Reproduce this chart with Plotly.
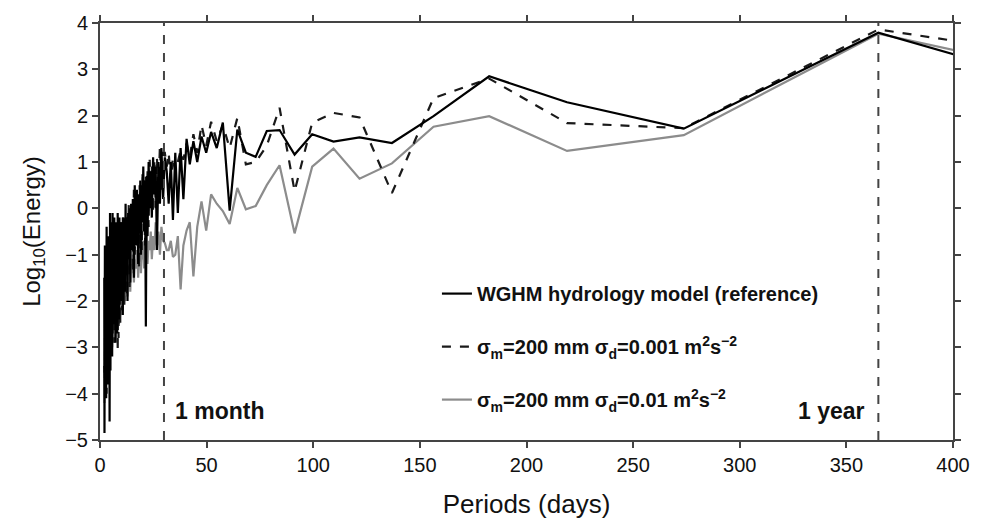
import plotly.graph_objects as go

# Periods (days) of the spectral components
periods = [547.5, 365.0, 273.75, 219.0, 182.5, 156.4, 136.9, 121.7, 109.5, 99.5,
           91.25, 84.2, 78.2, 73.0, 68.4, 64.4, 60.8, 57.6, 54.75, 52.1,
           49.8, 47.6, 45.6, 43.8, 42.1, 40.6, 39.1, 37.8, 36.5, 35.3,
           34.2, 33.2, 32.2, 31.3, 30.4,
           29.6, 28.8, 28.1, 27.4, 26.7, 26.1, 25.5, 24.9, 24.3, 23.8,
           23.3, 22.8, 22.3, 21.9, 21.5, 21.1, 20.7, 20.3, 19.9, 19.6,
           19.2, 18.9, 18.6, 18.3,
           17.9, 17.4, 16.8, 16.3, 15.9, 15.4, 15.0, 14.6, 14.2, 13.9,
           13.5, 13.2, 12.9, 12.6, 12.3, 12.0, 11.7, 11.4, 11.2, 10.9,
           10.7, 10.4, 10.2, 10.0, 9.7, 9.5, 9.3, 9.1, 8.9, 8.7,
           8.5, 8.3, 8.1, 7.9, 7.7, 7.5, 7.3, 7.1, 6.9, 6.7,
           6.5, 6.3, 6.1, 5.9, 5.7, 5.5, 5.3, 5.1, 4.9, 4.7,
           4.5, 4.3, 4.1, 3.9, 3.7, 3.5, 3.3, 3.1, 2.9, 2.7,
           2.5, 2.3, 2.1, 2.0]

# WGHM hydrology model (reference)
wghm = [1.39, 3.79, 1.72, 2.29, 2.85, 1.99, 1.41, 1.53, 1.44, 1.60,
        1.16, 1.69, 1.67, 1.11, 1.20, 1.70, -0.05, 1.85, 1.30, 1.65,
        1.20, 1.55, 1.00, 1.45, 0.95, 1.50, 0.20, 1.30, -0.10, 1.20,
        -0.25, 1.00, 0.10, 0.80, 1.10,
        0.2, 1.3, 0.1, 1.0, -0.9, 0.9, 0.3, 1.1, -0.2, 0.8,
        0.0, 1.0, -0.6, 0.7, -2.55, 0.6, -0.5, 0.9, -0.3, 0.5,
        -1.0, 0.6, -0.4, 0.3,
        -1.2, 0.4, -0.8, 0.5, -1.5, 0.2, -0.9, 0.1, -1.6, 0.0,
        -1.1, -0.1, -2.0, -0.2, -1.3, 0.1, -1.8, -0.3, -1.0, -0.2,
        -2.3, -0.4, -1.4, -0.3, -2.0, -0.5, -1.2, -0.2, -2.4, -0.6,
        -1.5, -0.1, -2.7, -0.7, -1.9, -0.3, -2.9, -0.8, -1.6, -0.2,
        -2.5, -0.9, -2.0, -0.1, -3.2, -1.0, -2.2, -0.3, -3.5, -0.1,
        -4.6, -1.2, -2.8, -0.6, -3.8, -1.4, -2.6, -0.4, -4.1, -1.6,
        -3.3, -0.8, -4.85, -1.5]

# sigma_m = 200 mm, sigma_d = 0.001 m2 s-2
sig_001 = [2.61, 3.86, 1.73, 1.84, 2.80, 2.38, 0.33, 1.96, 2.06, 1.85,
           0.37, 2.17, 1.35, 1.00, 0.95, 1.95, 1.30, 1.80, 1.45, 1.87,
           1.35, 1.80, 1.20, 1.60, 1.10, 1.40, 1.05, 1.25, 1.00, 0.80,
           1.10, 0.60, 1.20, 0.90, 1.20,
           1.2, 0.4, 1.35, 0.3, 1.1, 0.0, 1.0, -0.1, 0.9, 0.2,
           1.05, -0.4, 0.8, 0.1, 0.7, -0.8, 0.6, -0.2, 0.8, -0.9,
           0.4, -0.3, 0.5, -1.3,
           0.3, -0.6, 0.2, -1.0, 0.4, -1.4, 0.0, -0.8, -0.1, -1.7,
           0.1, -1.0, -0.3, -1.9, -0.2, -1.2, -0.5, -2.1, -0.4, -1.5,
           -0.2, -2.2, -0.6, -1.4, -0.3, -2.5, -0.7, -1.8, -0.4, -2.8,
           -0.9, -3.1, -0.6, -2.0, -0.5, -2.6, -1.0, -2.2, -0.4, -2.9,
           -1.1, -1.9, -0.5, -2.7, -0.8, -2.3, -0.6, -3.0, -1.2, -2.4,
           -0.9, -3.3, -1.5, -2.6, -0.7, -3.6, -1.8, -4.0, -1.3, -3.0,
           -2.0, -3.7, -2.5, -3.4]

# sigma_m = 200 mm, sigma_d = 0.01 m2 s-2
sig_01 = [1.95, 3.77, 1.58, 1.24, 1.99, 1.76, 0.97, 0.64, 1.29, 0.90,
          -0.54, 0.93, 0.50, 0.05, -0.02, 0.44, -0.34, -0.06, 0.10, 0.30,
          -0.48, 0.15, -0.40, -1.47, -0.30, -0.48, -0.80, -1.75, -0.60, -1.00,
          -1.05, -0.70, -0.90, -0.90, -0.75,
          -0.7, -0.4, -1.0, -0.5, -0.8, -0.3, -0.9, -0.6, -1.1, -0.5,
          -0.9, -0.7, -1.2, -0.6, -1.0, -0.8, -1.3, -0.7, -1.1, -0.9,
          -1.4, -0.8, -1.2, -1.0,
          -1.5, -0.9, -1.3, -1.1, -1.6, -1.0, -1.4, -1.2, -1.8, -1.1,
          -1.5, -1.3, -1.9, -1.2, -1.7, -1.4, -2.0, -1.3, -1.8, -1.5,
          -2.2, -1.4, -1.9, -1.6, -2.3, -1.5, -2.0, -1.7, -2.5, -1.6,
          -2.2, -1.8, -2.6, -1.7, -2.3, -1.9, -2.8, -1.8, -2.4, -2.0,
          -2.9, -1.9, -2.6, -2.1, -3.0, -2.0, -2.7, -2.2, -3.1, -2.1,
          -2.8, -2.3, -3.3, -2.2, -3.0, -2.5, -3.4, -2.4, -3.6, -2.6,
          -3.8, -2.8, -4.2, -3.5]

marker_periods = [30, 365]
marker_labels = ["<b>1 month</b>", "<b>1 year</b>"]

x_ticks = [0, 50, 100, 150, 200, 250, 300, 350, 400]
y_ticks = [-5, -4, -3, -2, -1, 0, 1, 2, 3, 4]

FONT = "Liberation Sans, Arial, Helvetica, sans-serif"

fig = go.Figure()
fig.add_trace(go.Scatter(x=periods, y=sig_01, mode="lines",
                         line=dict(color="#8c8c8c", width=2.2),
                         name="<b>σ<sub>m</sub>=200 mm σ<sub>d</sub>=0.01 m<sup>2</sup>s<sup>−2</sup></b>",
                         legendrank=3, legendgroup="c"))
fig.add_trace(go.Scatter(x=periods, y=sig_001, mode="lines",
                         line=dict(color="#1a1a1a", width=2.2, dash="dash"),
                         name="<b>σ<sub>m</sub>=200 mm σ<sub>d</sub>=0.001 m<sup>2</sup>s<sup>−2</sup></b>",
                         legendrank=2, legendgroup="b"))
fig.add_trace(go.Scatter(x=periods, y=wghm, mode="lines",
                         line=dict(color="#000000", width=2.2),
                         name="<b>WGHM hydrology model (reference)</b>",
                         legendrank=1, legendgroup="a"))

for p in marker_periods:
    fig.add_vline(x=p, line=dict(color="#444444", width=2, dash="dash"))

fig.add_annotation(x=marker_periods[0], y=-4.37, xref="x", yref="y", text=marker_labels[0],
                   showarrow=False, xanchor="left", xshift=9,
                   font=dict(family=FONT, size=23, color="#111"))
fig.add_annotation(x=marker_periods[1], y=-4.37, xref="x", yref="y", text=marker_labels[1],
                   showarrow=False, xanchor="right", xshift=-11,
                   font=dict(family=FONT, size=23, color="#111"))

axis_common = dict(showline=True, linecolor="#444444", linewidth=2, mirror="ticks",
                   ticks="outside", ticklen=6, tickcolor="#444444", tickwidth=1.5,
                   showgrid=False, zeroline=False,
                   tickfont=dict(family=FONT, size=20, color="#111"))

fig.update_xaxes(range=[0, 400], tickvals=x_ticks, ticktext=[str(v) for v in x_ticks],
                 title=dict(text="Periods (days)", font=dict(family=FONT, size=26, color="#111"),
                            standoff=20),
                 **axis_common)
fig.update_yaxes(range=[-5, 4], tickvals=y_ticks,
                 ticktext=[str(v).replace("-", "−") for v in y_ticks],
                 title=dict(text="Log<sub>10</sub>(Energy)", font=dict(family=FONT, size=24, color="#111"),
                            standoff=18),
                 **axis_common)

fig.update_layout(
    width=987, height=526,
    margin=dict(l=100, r=34, t=15, b=86),
    paper_bgcolor="white", plot_bgcolor="white",
    font=dict(family=FONT, color="#111"),
    legend=dict(x=0.395, y=0.224, xanchor="left", yanchor="middle",
                bgcolor="rgba(0,0,0,0)", tracegroupgap=24, itemwidth=30,
                font=dict(family=FONT, size=20, color="#111")),
)

fig.write_html("out.html")
